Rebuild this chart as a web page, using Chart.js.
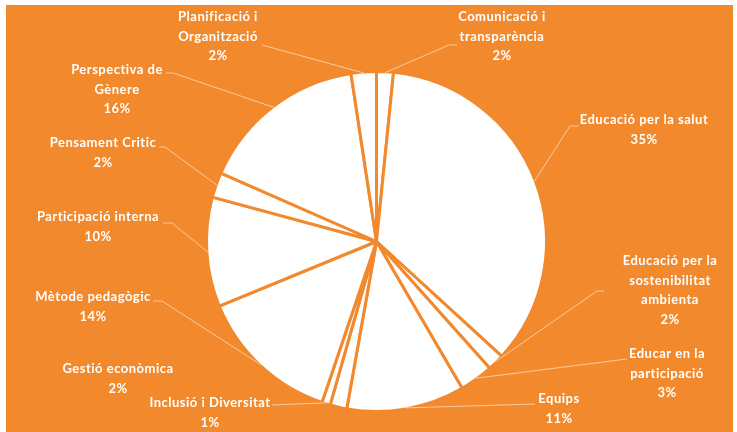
<!DOCTYPE html>
<html>
<head>
<meta charset="utf-8">
<script src="https://cdn.jsdelivr.net/npm/chart.js@4.4.1/dist/chart.umd.min.js"></script>
<style>
  html, body { margin: 0; padding: 0; background: #ffffff; }
  canvas { display: block; }
</style>
</head>
<body>
<canvas id="c" width="737" height="432"></canvas>
<script>
// ---- data ----
const categories = [
  "Comunicació i transparència",
  "Educació per la salut",
  "Educació per la sostenibilitat ambienta",
  "Educar en la participació",
  "Equips",
  "Gestió econòmica",
  "Inclusió i Diversitat",
  "Mètode pedagògic",
  "Participació interna",
  "Pensament Critic",
  "Perspectiva de Gènere",
  "Planificació i Organització"
];
const counts = [2, 44, 2, 4, 14, 2, 1, 17, 13, 3, 20, 3];

// ---- layout (positions / styles only) ----
const ORANGE = "#F3892D";
const LEADER = "rgba(255,255,255,0.55)";
const LINE_H = 19.5;
// label anchor: [centerX, firstLineY, wrapWidth]
const labelPos = [
  [502, 17, 105],
  [644, 120, 400],
  [670, 261, 105],
  [667, 354, 105],
  [559, 399, 400],
  [118, 369, 400],
  [210, 403, 400],
  [93, 297, 400],
  [98, 217, 400],
  [103, 143, 400],
  [117, 70, 105],
  [218, 17, 105]
];
// leader: [startX, startY, elbowX] or null
const leaderPos = [
  [457, 45, 449],
  [579, 126, 570],
  [604, 291, 597],
  [627, 359, 627],
  [535, 404, 535],
  null,
  [272, 405, 272],
  [153, 301, 162],
  [163, 223, 172],
  [159, 147, 165],
  [166, 73, 173],
  [262, 45, 262]
];

const FONT = "bold 13px Lato";

function wrap(ctx, text, maxW) {
  const words = text.split(" ");
  const lines = [];
  let cur = "";
  for (const w of words) {
    const t = cur ? cur + " " + w : w;
    if (cur && ctx.measureText(t).width > maxW) { lines.push(cur); cur = w; }
    else cur = t;
  }
  if (cur) lines.push(cur);
  return lines;
}

const bgPlugin = {
  id: "bg",
  beforeDraw(chart) {
    const ctx = chart.ctx;
    ctx.save();
    ctx.fillStyle = "#ffffff";
    ctx.fillRect(0, 0, chart.width, chart.height);
    ctx.fillStyle = ORANGE;
    ctx.fillRect(6, 5, chart.width - 10, chart.height - 5);
    ctx.restore();
  }
};

const labelPlugin = {
  id: "labels",
  afterDatasetsDraw(chart) {
    const ctx = chart.ctx;
    const meta = chart.getDatasetMeta(0);
    const total = counts.reduce((a, b) => a + b, 0);
    ctx.save();
    // leaders
    ctx.strokeStyle = LEADER;
    ctx.lineWidth = 1;
    meta.data.forEach((arc, i) => {
      const L = leaderPos[i];
      if (!L) return;
      const p = arc.getProps(["x", "y", "startAngle", "endAngle", "outerRadius"], true);
      const mid = (p.startAngle + p.endAngle) / 2;
      const r = p.outerRadius - 1;
      const ex = p.x + Math.cos(mid) * r;
      const ey = p.y + Math.sin(mid) * r;
      ctx.beginPath();
      ctx.moveTo(L[0], L[1]);
      ctx.lineTo(L[2], L[1]);
      ctx.lineTo(ex, ey);
      ctx.stroke();
    });
    // text
    ctx.font = FONT;
    if ("letterSpacing" in ctx) ctx.letterSpacing = "0.5px";
    ctx.fillStyle = "#ffffff";
    ctx.textAlign = "center";
    ctx.textBaseline = "middle";
    categories.forEach((name, i) => {
      const [cx, cy, w] = labelPos[i];
      const lines = wrap(ctx, name, w);
      lines.push(Math.round(counts[i] / total * 100) + "%");
      lines.forEach((ln, k) => ctx.fillText(ln, cx, cy + k * LINE_H));
    });
    ctx.restore();
  }
};

new Chart(document.getElementById("c"), {
  type: "pie",
  data: {
    labels: categories,
    datasets: [{
      data: counts,
      backgroundColor: "#ffffff",
      borderColor: ORANGE,
      borderWidth: 3
    }]
  },
  options: {
    responsive: false,
    animation: false,
    layout: { padding: { top: 70, bottom: 19, left: 200, right: 184 } },
    plugins: { legend: { display: false }, tooltip: { enabled: false } }
  },
  plugins: [bgPlugin, labelPlugin]
});
</script>
</body>
</html>
